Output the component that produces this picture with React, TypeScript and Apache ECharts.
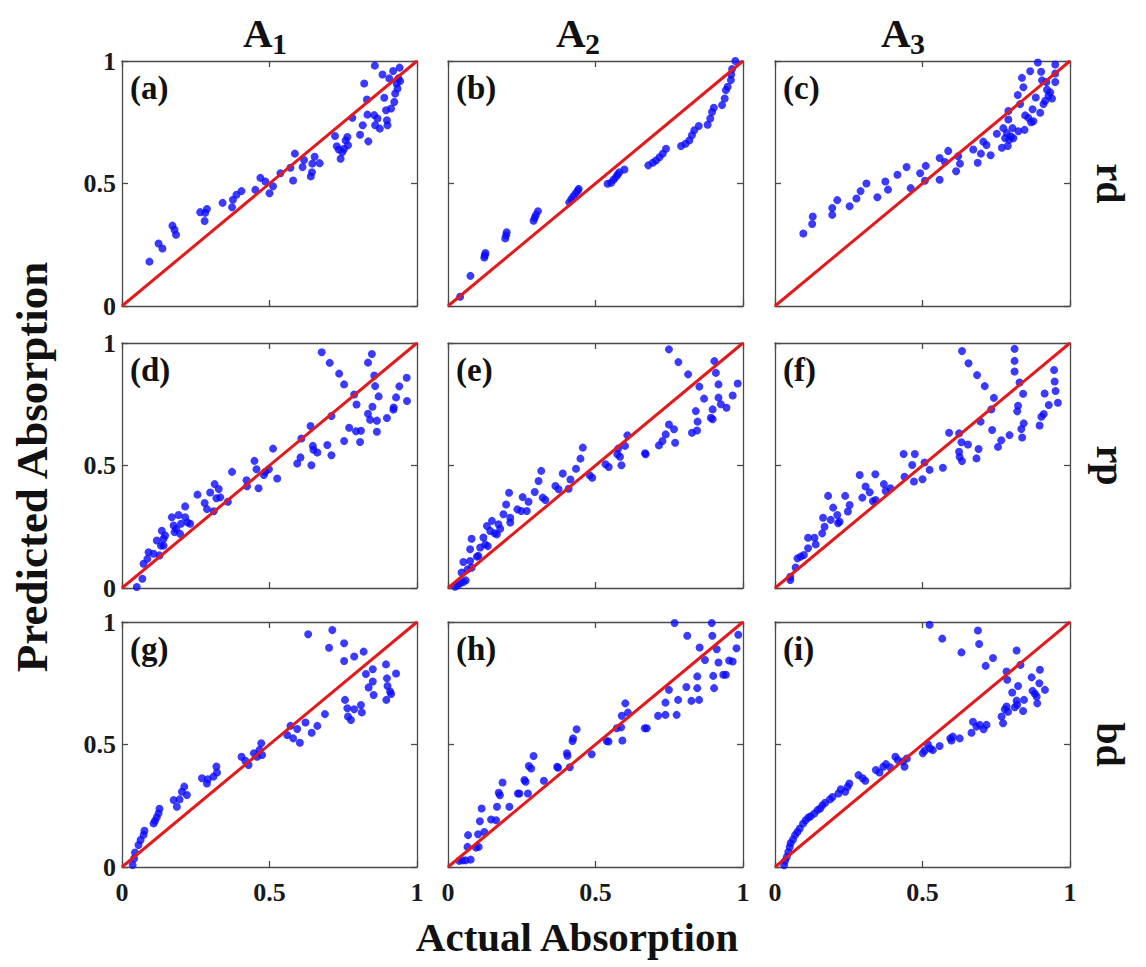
import React, { useEffect, useRef } from "react";
import * as echarts from "echarts";

const FONT = "'Liberation Serif', 'Times New Roman', serif";

const tickValues = [0, 0.5, 1];
const tickLabels = ["0", "0.5", "1"];
const panelLetters = ["(a)", "(b)", "(c)", "(d)", "(e)", "(f)", "(g)", "(h)", "(i)"];
const columnBase = "A";
const columnSubs = ["1", "2", "3"];
const rowLabels = ["rd", "rp", "bd"];
const xTitle = "Actual Absorption";
const yTitle = "Predicted Absorption";
const diagonal: [number, number][] = [[0, 0], [1, 1]];

const panelA: [number, number][] = [[0.093,0.181],[0.124,0.255],[0.137,0.235],[0.171,0.328],[0.178,0.311],[0.183,0.291],[0.265,0.383],[0.282,0.380],[0.288,0.396],[0.280,0.347],[0.341,0.421],[0.373,0.403],[0.376,0.434],[0.388,0.454],[0.405,0.469],[0.452,0.474],[0.469,0.523],[0.486,0.508],[0.500,0.460],[0.512,0.489],[0.537,0.542],[0.571,0.564],[0.580,0.512],[0.586,0.622],[0.612,0.567],[0.617,0.596],[0.640,0.529],[0.644,0.546],[0.653,0.609],[0.670,0.583],[0.645,0.581],[0.722,0.694],[0.728,0.652],[0.735,0.639],[0.741,0.601],[0.747,0.628],[0.753,0.642],[0.758,0.676],[0.766,0.656],[0.764,0.690],[0.781,0.768],[0.807,0.699],[0.816,0.738],[0.821,0.908],[0.830,0.843],[0.832,0.781],[0.835,0.672],[0.857,0.981],[0.855,0.779],[0.858,0.738],[0.866,0.765],[0.874,0.724],[0.883,0.945],[0.889,0.850],[0.895,0.799],[0.898,0.758],[0.900,0.738],[0.906,0.929],[0.912,0.806],[0.919,0.959],[0.923,0.833],[0.926,0.867],[0.931,0.908],[0.934,0.888],[0.937,0.929],[0.941,0.973],[0.943,0.918]];

const panelB: [number, number][] = [[0.041,0.038],[0.076,0.123],[0.123,0.198],[0.125,0.207],[0.127,0.216],[0.194,0.276],[0.197,0.289],[0.199,0.301],[0.290,0.348],[0.294,0.360],[0.298,0.372],[0.305,0.387],[0.411,0.423],[0.418,0.436],[0.425,0.448],[0.433,0.460],[0.440,0.471],[0.443,0.478],[0.541,0.499],[0.553,0.503],[0.561,0.515],[0.569,0.526],[0.575,0.537],[0.581,0.546],[0.598,0.557],[0.679,0.574],[0.694,0.585],[0.705,0.594],[0.717,0.607],[0.728,0.622],[0.739,0.642],[0.790,0.653],[0.805,0.662],[0.818,0.676],[0.827,0.697],[0.835,0.717],[0.850,0.735],[0.880,0.740],[0.889,0.765],[0.895,0.792],[0.901,0.809],[0.929,0.820],[0.938,0.847],[0.942,0.881],[0.948,0.895],[0.959,0.922],[0.960,0.945],[0.963,0.967],[0.974,1.0]];

const panelC: [number, number][] = [[0.096,0.296],[0.126,0.335],[0.128,0.365],[0.194,0.372],[0.194,0.400],[0.211,0.432],[0.253,0.407],[0.276,0.439],[0.290,0.469],[0.310,0.500],[0.347,0.444],[0.374,0.508],[0.383,0.475],[0.415,0.536],[0.446,0.567],[0.460,0.481],[0.492,0.542],[0.508,0.511],[0.511,0.572],[0.558,0.604],[0.558,0.515],[0.576,0.588],[0.587,0.633],[0.614,0.550],[0.621,0.611],[0.627,0.581],[0.672,0.639],[0.687,0.585],[0.698,0.622],[0.706,0.671],[0.717,0.657],[0.731,0.615],[0.752,0.703],[0.769,0.646],[0.774,0.726],[0.780,0.685],[0.789,0.653],[0.786,0.706],[0.791,0.761],[0.794,0.678],[0.800,0.692],[0.805,0.726],[0.808,0.685],[0.791,0.796],[0.823,0.861],[0.825,0.713],[0.831,0.824],[0.837,0.931],[0.842,0.893],[0.846,0.719],[0.848,0.778],[0.859,0.768],[0.865,0.958],[0.868,0.750],[0.873,0.803],[0.876,0.754],[0.884,0.851],[0.891,0.994],[0.899,0.789],[0.902,0.956],[0.905,0.921],[0.910,0.824],[0.916,0.838],[0.920,0.914],[0.922,0.883],[0.927,0.858],[0.933,0.872],[0.939,0.847],[0.950,0.986],[0.950,0.949],[0.950,0.914]];

const panelD: [number, number][] = [[0.050,0.004],[0.069,0.038],[0.073,0.099],[0.086,0.119],[0.090,0.146],[0.107,0.140],[0.118,0.194],[0.127,0.133],[0.132,0.173],[0.135,0.234],[0.141,0.201],[0.141,0.173],[0.146,0.214],[0.169,0.289],[0.175,0.255],[0.178,0.228],[0.184,0.241],[0.192,0.298],[0.197,0.221],[0.200,0.262],[0.214,0.333],[0.214,0.289],[0.222,0.268],[0.231,0.262],[0.256,0.381],[0.280,0.347],[0.288,0.322],[0.299,0.390],[0.314,0.424],[0.311,0.313],[0.320,0.366],[0.328,0.404],[0.333,0.370],[0.359,0.352],[0.373,0.474],[0.422,0.440],[0.424,0.415],[0.449,0.519],[0.456,0.485],[0.463,0.407],[0.481,0.461],[0.486,0.474],[0.498,0.485],[0.512,0.569],[0.526,0.447],[0.594,0.508],[0.605,0.533],[0.608,0.610],[0.639,0.661],[0.642,0.501],[0.647,0.580],[0.649,0.564],[0.662,0.553],[0.696,0.584],[0.710,0.542],[0.710,0.702],[0.677,0.962],[0.704,0.919],[0.736,0.875],[0.753,0.831],[0.753,0.600],[0.770,0.654],[0.787,0.790],[0.793,0.640],[0.795,0.749],[0.807,0.596],[0.810,0.642],[0.834,0.920],[0.834,0.711],[0.841,0.687],[0.847,0.955],[0.849,0.740],[0.855,0.867],[0.858,0.824],[0.864,0.683],[0.864,0.638],[0.870,0.782],[0.898,0.694],[0.920,0.728],[0.921,0.737],[0.929,0.778],[0.940,0.823],[0.965,0.858],[0.966,0.763]];

const panelE: [number, number][] = [[0.024,0.005],[0.033,0.011],[0.041,0.019],[0.052,0.024],[0.060,0.031],[0.046,0.063],[0.052,0.106],[0.066,0.076],[0.075,0.110],[0.080,0.083],[0.075,0.158],[0.080,0.201],[0.098,0.128],[0.103,0.131],[0.109,0.165],[0.120,0.206],[0.126,0.178],[0.132,0.253],[0.135,0.171],[0.143,0.233],[0.149,0.274],[0.158,0.223],[0.166,0.219],[0.171,0.260],[0.177,0.242],[0.188,0.301],[0.197,0.341],[0.211,0.287],[0.211,0.267],[0.207,0.389],[0.235,0.321],[0.248,0.314],[0.253,0.371],[0.267,0.314],[0.273,0.352],[0.294,0.392],[0.307,0.437],[0.316,0.478],[0.321,0.369],[0.330,0.359],[0.364,0.416],[0.375,0.403],[0.389,0.467],[0.409,0.405],[0.415,0.443],[0.434,0.487],[0.449,0.528],[0.457,0.573],[0.480,0.460],[0.489,0.450],[0.534,0.505],[0.545,0.494],[0.574,0.546],[0.577,0.569],[0.583,0.536],[0.588,0.501],[0.600,0.580],[0.608,0.623],[0.668,0.550],[0.670,0.546],[0.715,0.582],[0.727,0.600],[0.738,0.627],[0.749,0.667],[0.766,0.648],[0.770,0.593],[0.749,0.974],[0.781,0.922],[0.814,0.872],[0.827,0.634],[0.844,0.643],[0.840,0.722],[0.846,0.679],[0.852,0.822],[0.868,0.773],[0.891,0.695],[0.897,0.689],[0.897,0.729],[0.903,0.926],[0.908,0.878],[0.917,0.831],[0.917,0.777],[0.925,0.750],[0.944,0.736],[0.965,0.786],[0.982,0.835]];

const panelF: [number, number][] = [[0.052,0.033],[0.052,0.046],[0.070,0.084],[0.076,0.121],[0.087,0.128],[0.098,0.135],[0.112,0.162],[0.112,0.205],[0.134,0.205],[0.138,0.178],[0.160,0.223],[0.163,0.287],[0.168,0.250],[0.180,0.376],[0.189,0.278],[0.197,0.328],[0.211,0.298],[0.214,0.264],[0.219,0.271],[0.238,0.376],[0.247,0.312],[0.253,0.339],[0.287,0.461],[0.296,0.369],[0.307,0.414],[0.321,0.391],[0.332,0.354],[0.340,0.464],[0.341,0.359],[0.369,0.424],[0.375,0.396],[0.391,0.407],[0.439,0.454],[0.436,0.547],[0.465,0.502],[0.474,0.547],[0.471,0.435],[0.500,0.444],[0.507,0.512],[0.524,0.482],[0.569,0.491],[0.590,0.634],[0.624,0.631],[0.624,0.556],[0.626,0.535],[0.632,0.595],[0.634,0.518],[0.654,0.586],[0.683,0.529],[0.690,0.567],[0.697,0.679],[0.634,0.967],[0.656,0.917],[0.685,0.869],[0.711,0.824],[0.733,0.729],[0.736,0.645],[0.742,0.776],[0.756,0.576],[0.767,0.603],[0.795,0.624],[0.812,0.976],[0.812,0.927],[0.812,0.884],[0.821,0.721],[0.824,0.744],[0.829,0.839],[0.835,0.649],[0.838,0.614],[0.841,0.793],[0.843,0.672],[0.897,0.663],[0.903,0.699],[0.911,0.710],[0.914,0.794],[0.928,0.747],[0.946,0.890],[0.948,0.843],[0.951,0.804],[0.959,0.756]];

const panelG: [number, number][] = [[0.036,0.008],[0.041,0.035],[0.044,0.059],[0.056,0.090],[0.063,0.110],[0.073,0.131],[0.076,0.148],[0.107,0.178],[0.112,0.189],[0.118,0.203],[0.124,0.219],[0.127,0.238],[0.175,0.273],[0.186,0.246],[0.195,0.276],[0.203,0.307],[0.211,0.328],[0.220,0.294],[0.271,0.362],[0.288,0.341],[0.291,0.358],[0.310,0.369],[0.320,0.410],[0.322,0.386],[0.405,0.450],[0.418,0.434],[0.429,0.416],[0.447,0.464],[0.458,0.450],[0.466,0.478],[0.472,0.505],[0.475,0.457],[0.560,0.539],[0.571,0.576],[0.580,0.525],[0.594,0.563],[0.603,0.507],[0.622,0.590],[0.643,0.548],[0.662,0.576],[0.688,0.624],[0.631,0.950],[0.702,0.895],[0.713,0.967],[0.753,0.913],[0.753,0.841],[0.787,0.859],[0.819,0.879],[0.827,0.788],[0.836,0.733],[0.850,0.807],[0.850,0.757],[0.853,0.702],[0.756,0.682],[0.764,0.648],[0.766,0.614],[0.776,0.600],[0.787,0.644],[0.810,0.661],[0.813,0.631],[0.895,0.827],[0.898,0.770],[0.896,0.682],[0.900,0.739],[0.909,0.716],[0.912,0.706],[0.929,0.790]];

const panelH: [number, number][] = [[0.038,0.025],[0.049,0.027],[0.060,0.027],[0.077,0.030],[0.066,0.082],[0.095,0.079],[0.104,0.082],[0.068,0.130],[0.102,0.134],[0.123,0.143],[0.108,0.187],[0.114,0.239],[0.146,0.194],[0.163,0.191],[0.166,0.246],[0.172,0.303],[0.176,0.293],[0.185,0.345],[0.208,0.246],[0.237,0.300],[0.242,0.300],[0.259,0.355],[0.263,0.348],[0.271,0.300],[0.274,0.412],[0.282,0.402],[0.290,0.453],[0.325,0.352],[0.370,0.409],[0.373,0.405],[0.403,0.464],[0.405,0.454],[0.413,0.407],[0.422,0.514],[0.424,0.525],[0.436,0.562],[0.487,0.460],[0.538,0.514],[0.544,0.512],[0.572,0.566],[0.587,0.570],[0.591,0.516],[0.589,0.617],[0.601,0.668],[0.610,0.630],[0.667,0.566],[0.674,0.566],[0.712,0.617],[0.737,0.621],[0.737,0.671],[0.749,0.723],[0.775,0.621],[0.780,0.682],[0.808,0.735],[0.825,0.678],[0.845,0.730],[0.845,0.778],[0.851,0.682],[0.853,0.896],[0.871,0.845],[0.894,0.996],[0.896,0.944],[0.899,0.780],[0.902,0.730],[0.911,0.889],[0.917,0.835],[0.933,0.785],[0.942,0.785],[0.953,0.843],[0.965,0.839],[0.978,0.893],[0.984,0.948],[0.768,0.996],[0.811,0.944]];

const panelI: [number, number][] = [[0.031,0.007],[0.034,0.025],[0.040,0.041],[0.045,0.061],[0.050,0.082],[0.053,0.098],[0.061,0.112],[0.068,0.130],[0.076,0.143],[0.084,0.157],[0.095,0.177],[0.104,0.191],[0.113,0.202],[0.121,0.207],[0.133,0.218],[0.144,0.232],[0.153,0.239],[0.161,0.252],[0.170,0.262],[0.186,0.276],[0.195,0.286],[0.215,0.300],[0.223,0.317],[0.238,0.307],[0.246,0.327],[0.252,0.341],[0.283,0.375],[0.297,0.362],[0.306,0.352],[0.342,0.396],[0.354,0.386],[0.367,0.409],[0.376,0.420],[0.390,0.407],[0.408,0.450],[0.416,0.437],[0.433,0.430],[0.439,0.409],[0.447,0.443],[0.501,0.464],[0.507,0.475],[0.518,0.501],[0.526,0.484],[0.535,0.477],[0.558,0.494],[0.594,0.525],[0.598,0.516],[0.603,0.532],[0.626,0.525],[0.666,0.548],[0.671,0.593],[0.683,0.573],[0.694,0.580],[0.707,0.562],[0.717,0.580],[0.768,0.614],[0.773,0.587],[0.779,0.644],[0.785,0.655],[0.790,0.634],[0.787,0.764],[0.804,0.712],[0.813,0.652],[0.819,0.679],[0.821,0.662],[0.824,0.739],[0.841,0.637],[0.844,0.682],[0.870,0.774],[0.873,0.719],[0.881,0.707],[0.887,0.696],[0.889,0.668],[0.896,0.750],[0.898,0.805],[0.915,0.723],[0.524,0.989],[0.567,0.932],[0.632,0.876],[0.688,0.965],[0.692,0.910],[0.714,0.821],[0.739,0.853],[0.819,0.884],[0.832,0.825],[0.785,0.798]];

const panels = [panelA, panelB, panelC, panelD, panelE, panelF, panelG, panelH, panelI];

const colLeft = [122, 448, 775];
const rowTop = [61, 343, 622];
const PW = 295;
const PH = 245;

const AXIS_COLOR = "#4a4a4a";
const DOT_COLOR = "#0a0aff";
const LINE_COLOR = "#e3191c";

function fmt(v: number) {
  const i = tickValues.findIndex((t) => Math.abs(t - v) < 1e-9);
  return i >= 0 ? tickLabels[i] : "";
}

function buildOption() {
  const grid: any[] = [];
  const xAxis: any[] = [];
  const yAxis: any[] = [];
  const series: any[] = [];
  const graphic: any[] = [];
  const lineStyle = { color: AXIS_COLOR, width: 1.3 };
  const labelStyle = { fontFamily: FONT, fontWeight: "bold", fontSize: 26, color: "#1a1a1a" };

  for (let r = 0; r < 3; r++) {
    for (let c = 0; c < 3; c++) {
      const i = r * 3 + c;
      grid.push({ left: colLeft[c], top: rowTop[r], width: PW, height: PH });
      const base = {
        gridIndex: i,
        type: "value",
        min: 0,
        max: 1,
        interval: 0.5,
        splitLine: { show: false },
        axisLine: { show: true, onZero: false, lineStyle },
        axisTick: { show: true, inside: true, length: 6, lineStyle },
      };
      xAxis.push({
        ...base,
        position: "bottom",
        axisLabel: { show: r === 2, formatter: fmt, margin: 12, ...labelStyle },
      });
      xAxis.push({ ...base, position: "top", axisLabel: { show: false } });
      yAxis.push({
        ...base,
        position: "left",
        axisLabel: { show: c === 0, formatter: fmt, margin: 6, ...labelStyle },
      });
      yAxis.push({ ...base, position: "right", axisLabel: { show: false } });

      series.push({
        type: "scatter",
        xAxisIndex: 2 * i,
        yAxisIndex: 2 * i,
        data: panels[i],
        symbol: "circle",
        symbolSize: 8,
        itemStyle: { color: DOT_COLOR },
        z: 2,
      });
      series.push({
        type: "line",
        xAxisIndex: 2 * i,
        yAxisIndex: 2 * i,
        data: diagonal,
        symbol: "none",
        lineStyle: { color: LINE_COLOR, width: 3 },
        z: 3,
      });

      graphic.push({
        type: "text",
        x: colLeft[c] + 8,
        y: rowTop[r] + 27,
        style: {
          text: panelLetters[i],
          fontFamily: FONT,
          fontWeight: "bold",
          fontSize: 33,
          fill: "#111",
          verticalAlign: "middle",
        },
        z: 10,
      });
    }
  }

  const titleX = [243, 556, 881];
  for (let c = 0; c < 3; c++) {
    graphic.push({
      type: "group",
      x: titleX[c],
      y: 33,
      children: [
        {
          type: "text",
          x: 0,
          y: 0,
          style: { text: columnBase, fontFamily: FONT, fontWeight: "bold", fontSize: 41, fill: "#111", verticalAlign: "middle" },
        },
        {
          type: "text",
          x: 29,
          y: 10,
          style: { text: columnSubs[c], fontFamily: FONT, fontWeight: "bold", fontSize: 30, fill: "#111", verticalAlign: "middle" },
        },
      ],
    });
  }

  for (let r = 0; r < 3; r++) {
    graphic.push({
      type: "text",
      x: 1110,
      y: rowTop[r] + PH / 2,
      rotation: -Math.PI / 2,
      style: {
        text: rowLabels[r],
        fontFamily: FONT,
        fontWeight: "bold",
        fontSize: 40,
        fill: "#111",
        align: "center",
        verticalAlign: "middle",
      },
    });
  }

  graphic.push({
    type: "text",
    x: 32,
    y: 467,
    rotation: Math.PI / 2,
    style: { text: yTitle, fontFamily: FONT, fontWeight: "bold", fontSize: 45, fill: "#111", align: "center", verticalAlign: "middle" },
  });
  graphic.push({
    type: "text",
    x: 577,
    y: 937,
    style: { text: xTitle, fontFamily: FONT, fontWeight: "bold", fontSize: 41, fill: "#111", align: "center", verticalAlign: "middle" },
  });

  return {
    animation: false,
    backgroundColor: "#ffffff",
    grid,
    xAxis,
    yAxis,
    series,
    graphic,
  };
}

export default function App() {
  const ref = useRef<HTMLDivElement>(null);
  useEffect(() => {
    if (!ref.current) return;
    const chart = echarts.init(ref.current, undefined, { renderer: "svg" });
    chart.setOption(buildOption() as any);
    return () => chart.dispose();
  }, []);
  return (
    <div
      ref={ref}
      style={{ position: "absolute", left: 0, top: 0, width: 1146, height: 967, background: "#fff" }}
    />
  );
}
